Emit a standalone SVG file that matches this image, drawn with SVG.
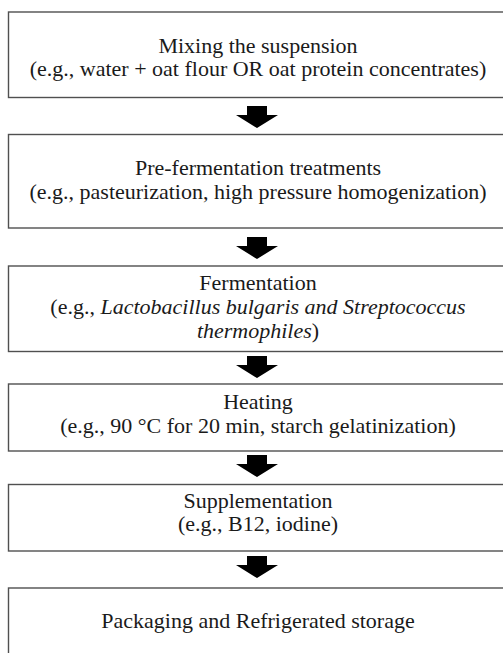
<svg xmlns="http://www.w3.org/2000/svg" width="503" height="653" viewBox="0 0 503 653">
<style>
.box{fill:#fff;stroke:#505050;stroke-width:1.4}
.t{font-family:'Liberation Serif','Times New Roman','DejaVu Serif',serif;font-size:22px;fill:#1a1a1a;text-anchor:middle}
.i{font-style:italic}
.arr{fill:#000}
</style>
<defs>
<path id="ar" d="M-10,0 H10 V9 H21 L0,22 L-21,9 H-10 Z"/>
</defs>
<rect width="503" height="653" fill="#fff"/>
<g id="connectors">
<use href="#ar" class="arr" x="257" y="106"/>
<use href="#ar" class="arr" x="257" y="237"/>
<use href="#ar" class="arr" x="257" y="356"/>
<use href="#ar" class="arr" x="257" y="455"/>
<use href="#ar" class="arr" x="257" y="556"/>
</g>
<g id="n1">
<rect class="box" x="8.5" y="12" width="500" height="85.5"/>
<text class="t" x="258" y="53">Mixing the suspension</text>
<text class="t" x="258" y="76">(e.g., water + oat flour OR oat protein concentrates)</text>
</g>
<g id="n2">
<rect class="box" x="8.5" y="134.5" width="500" height="93.5"/>
<text class="t" x="258" y="175">Pre-fermentation treatments</text>
<text class="t" x="258" y="199">(e.g., pasteurization, high pressure homogenization)</text>
</g>
<g id="n3">
<rect class="box" x="8.5" y="266" width="500" height="85.5"/>
<text class="t" x="258" y="290">Fermentation</text>
<text class="t" x="258" y="314">(e.g., <tspan class="i">Lactobacillus bulgaris and Streptococcus</tspan></text>
<text class="t" x="258" y="338"><tspan class="i">thermophiles</tspan>)</text>
</g>
<g id="n4">
<rect class="box" x="8.5" y="384" width="500" height="67"/>
<text class="t" x="258" y="409">Heating</text>
<text class="t" x="258" y="433">(e.g., 90 °C for 20 min, starch gelatinization)</text>
</g>
<g id="n5">
<rect class="box" x="8.5" y="484.5" width="500" height="66.5"/>
<text class="t" x="258" y="508">Supplementation</text>
<text class="t" x="258" y="531">(e.g., B12, iodine)</text>
</g>
<g id="n6">
<rect class="box" x="8.5" y="588" width="500" height="80"/>
<text class="t" x="258" y="628">Packaging and Refrigerated storage</text>
</g>
</svg>
